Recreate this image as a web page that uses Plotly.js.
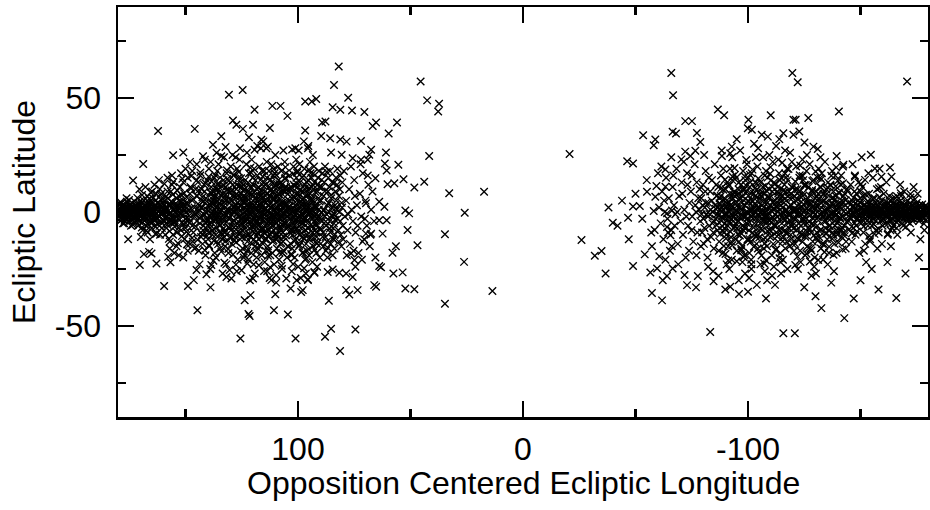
<!DOCTYPE html>
<html>
<head>
<meta charset="utf-8">
<script src="https://cdn.plot.ly/plotly-3.0.1.min.js"></script>
<style>html,body{margin:0;padding:0;background:#fff;}#chart{width:930px;height:510px;}</style>
</head>
<body>
<div id="chart"></div>
<script>
// Axis ticks and titles
const xTickVals = [100, 0, -100];
const xTickText = ['100', '0', '-100'];
const xMinorVals = [150, 50, -50, -150];
const yTickVals = [50, 0, -50];
const yTickText = ['50', '0', '-50'];
const yMinorVals = [75, 25, -25, -75];
const xTitle = 'Opposition Centered Ecliptic Longitude';
const yTitle = 'Ecliptic Latitude';

// [longitude, latitude] pairs
const westCore = [
[179,0.5],[178,-1],[177.5,1.5],[176,-0.5],[179.5,-2],[175,2.5],[174,-1.5],[173,0],[178.5,2],[176.5,-3],[172.5,1],[175.5,-2.5],[177,3],[173.5,-3.5],[174.5,3.5],[179,-4],[176,4.5],[172,-1],[178,0],[175,-0.5],[173,2],[177,-1.5],[174,0.8],[179.5,1.2],[176.8,-2.2],[172.8,-2.8],[175.8,1.8],[178.2,-3.2],[173.8,4],[177.8,-5],[174.2,-6],[176.2,6],[172.2,3],[179.2,3.5],[175.2,-4.2],[173.2,-4.8],[177.2,0.2],[178.8,-0.8],[174.8,-1.2],[176.6,0.6],
[171,0],[170,-2],[169,1],[168,3],[167,-1],[166,-4],[165,2],[164,0],[163,-3],[162,4],[161,-1],[160,1],[171.5,2.5],[170.5,-4],[169.5,-1.5],[168.5,5],[167.5,-6],[166.5,0.5],[165.5,-2.5],[164.5,6],[163.5,1.5],[162.5,-5],[161.5,3],[160.5,-7],[171,-6],[170,5],[169,-8],[168,-0.5],[167,7],[166,2.5],[165,-7],[164,-3],[163,8],[162,-1.5],[161,5.5],[160,-3.5],[170.8,3.8],[168.8,-3.2],[166.8,-9],[164.8,9],[162.8,-9.5],[160.8,8],[169.3,7.5],[167.3,3.5],[165.3,-5],[163.3,-6.5],[161.3,-10],[171.7,-2],[170.2,1.2],[168.2,-1.8],[166.2,4.2],[164.2,-0.6],[162.2,2.2],[160.2,-0.4],[167.8,11],[163.8,12],[165.8,-12],[169.8,-11],[161.8,14],[170.5,10],
[159,0],[158,-2],[157,3],[156,-5],[155,1],[154,6],[153,-3],[152,-8],[151,4],[150,0],[149,-1],[148,8],[147,-6],[146,2],[145,-4],[159.5,5],[158.5,-7],[157.5,-1],[156.5,9],[155.5,-10],[154.5,-0.5],[153.5,2.5],[152.5,11],[151.5,-4.5],[150.5,-12],[149.5,6.5],[148.5,-3],[147.5,1.5],[146.5,-9],[145.5,10],[159,-10],[158,9],[157,-13],[156,12],[155,-3],[154,-15],[153,7],[152,-1],[151,13],[150,-7],[149,15],[148,-14],[147,5],[146,-2],[145,14],[158.8,2],[157.8,6],[156.8,-3.5],[155.8,4],[154.8,-6.5],[153.8,-9],[152.8,1.5],[151.8,7.5],[150.8,3],[149.8,-5],[148.8,-9.5],[147.8,11],[146.8,-13],[145.8,-1],[159.3,-4],[156,16],[152,17],[149,-17],[147,18],[155,-18],[150,19],[146,-16],[158,15],[153,-19],[148,22],[157,-16],[145,21],[151,-20],
[144.2,0],[143.6,-5],[144.8,7],[143.1,-11],[144.5,13],[143.9,3],[144.1,-17],[142.7,2],[143.3,-2],[142.2,-8],[142.9,10],[143.4,16],[142.4,-14],[143.0,5],[141.8,-1],[141.3,4],[142.0,-6],[141.5,9],[141.1,-19],[141.7,12],[140.8,-3],[140.6,1],[140.2,-4],[140.9,6],[139.8,-9],[140.4,14],[139.6,19],[140.0,-12],[139.3,-2],[138.9,3],[139.1,-7],[138.6,11],[139.5,-15],[138.3,8],[138.8,22],[137.9,0],[137.4,5],[138.1,-10],[137.6,-4],[137.2,15],[137.8,9],[137.0,-18],[136.7,2],[136.3,-3],[136.9,7],[136.1,-13],[135.7,12],[136.5,-20],[135.9,18],[135.4,-1],[135.1,4],[134.8,-6],[135.6,10],[134.6,-16],[135.3,21],[134.3,1],[134.0,3],[133.7,-5],[133.4,8],[134.2,-9],[133.1,14],[133.8,-12],[132.9,24],[132.6,-2],[132.2,6],[132.8,-11],[132.0,11],[131.7,17],[132.4,-15],[131.5,0],[131.2,1],[130.8,-3],[131.0,9],[130.5,-7],[130.2,13],[130.9,-18],[129.9,20],[129.6,-1],[129.2,5],[129.8,-8],[128.9,12],[129.4,-14],[128.7,16],[128.4,2],[128.1,0],[127.7,-6],[128.3,7],[127.4,10],[127.9,-11],[127.1,19],[126.8,-21],[126.6,2],[126.2,-2],[126.9,4],[125.9,-9],[126.4,15],[125.6,-17],[126.0,23],[125.3,-3],[125.0,6],[125.7,-12],[124.9,11],[125.4,13],[124.7,-5],[125.2,8],[124.5,-1],[124.2,4],[124.8,-8],[124.0,7],[124.4,12],[124.6,-16],[124.1,-20],
[144.6,1.5],[143.2,-9],[142.5,6.5],[141.2,-4.5],[140.5,-10.5],[139.7,15.5],[138.5,4.5],[137.3,-1.5],[136.4,-3.5],[135.5,12.5],[134.5,7.5],[133.2,-11.5],[132.5,-8.5],[131.4,14.5],[130.6,0.5],[129.5,9.5],[128.5,-12.5],[127.5,6.5],[126.5,1.5],[125.5,-3.5],[143.8,-23],[141.4,23],[139.0,-25],[136.2,26],[133.5,-27],[131.9,-23],[129.1,25],[127.2,-26],[125.8,28],
[123.6,0],[123.2,-4],[123.9,6],[122.8,-10],[123.4,14],[122.6,-17],[123.0,21],[122.9,3],[122.3,1],[121.9,-2],[122.1,9],[121.6,-7],[122.5,-13],[121.8,17],[122.0,-21],[121.3,11],[121.1,-1],[120.7,4],[120.9,-5],[120.4,8],[121.2,-11],[120.2,15],[120.8,-18],[120.6,23],[120.0,2],[119.6,-3],[119.8,7],[119.3,-9],[119.9,12],[119.1,-15],[119.5,19],[119.7,-23],[118.8,-1],[118.5,5],[118.9,-6],[118.2,10],[118.6,-13],[118.0,16],[118.4,-20],[118.7,1],[117.7,0],[117.3,-3],[117.9,3],[117.1,-8],[117.5,11],[117.8,-16],[117.2,20],[116.9,7],[116.6,-2],[116.2,2],[116.8,-5],[116.0,9],[116.4,-11],[116.7,14],[116.1,-19],[115.8,-7],[115.5,1],[115.1,-4],[115.7,6],[115.3,-9],[114.9,13],[115.6,-14],[115.0,18],[114.8,-22],[114.5,-1],[114.2,4],[114.6,-6],[114.0,8],[114.3,-12],[113.8,15],[114.4,-17],[113.9,22],[113.5,0],[113.1,-3],[113.6,5],[113.2,-8],[112.8,11],[113.4,-15],[112.9,18],[112.7,-2],[112.4,2],[112.0,-5],[112.5,7],[112.2,-10],[111.8,13],[112.3,-19],[111.9,21],[111.6,-6],[111.3,-1],[111.0,3],[111.5,-4],[110.8,9],[111.2,-13],[110.9,16],[111.4,-18],[110.6,-23],[110.3,1],[110.0,-2],[110.5,6],[109.8,-7],[110.2,12],[109.6,-12],[110.4,17],[109.9,4],[109.3,-1],[109.0,2],[109.5,-5],[108.8,8],[109.2,-10],[108.6,14],[109.4,-16],[108.9,20],[108.3,0],[108.0,-3],[108.5,5],[107.7,-8],[108.2,10],[107.9,-14],[108.4,-21],[107.6,13],[107.3,1],[107.0,-4],[107.5,7],[106.8,-9],[107.2,12],[106.6,-13],[107.4,18],[106.9,-18],[106.3,-1],[106.0,3],[106.5,-6],[105.8,9],[106.2,-11],[105.6,15],[106.4,-17],[105.9,22],[105.3,0],[105.0,-2],[105.5,4],[104.8,-7],[105.2,11],[104.6,-15],[105.4,17],[104.9,-20],
[123.0,-1.5],[121.5,2.5],[120.1,-6.5],[118.3,-3.5],[117.0,5.5],[115.9,-0.5],[114.7,1.5],[113.3,-10.5],[112.1,6.5],[110.7,-3.5],[109.1,-0.5],[107.8,3.5],[106.7,-2.5],[105.7,0.5],[104.5,2],[123.7,10],[120.5,-14],[117.4,-12],[114.1,-8.5],[111.7,8.5],[108.7,-11],[106.1,10.5],[122.7,26],[119.2,-27],[116.5,28],[113.7,-26],[110.1,25],[107.1,-25],[121.4,-30],[115.4,31],[109.7,-31],[118.1,29],[112.6,-29],[106.5,27],
[103.7,1],[103.3,-3],[103.9,5],[103.0,-8],[103.5,10],[103.2,-14],[103.8,16],[102.9,-19],[102.5,0],[102.1,-2],[102.7,6],[102.3,-10],[101.9,12],[102.6,-16],[102.0,20],[101.8,-5],[101.4,-1],[101.1,3],[101.6,-6],[100.9,8],[101.3,-12],[100.7,15],[101.5,-20],[100.8,23],[100.4,1],[100.0,-4],[100.5,5],[99.8,-9],[100.2,11],[99.6,-15],[100.3,18],[99.9,-24],[99.3,0],[99.0,-2],[99.5,7],[98.7,-7],[99.2,13],[98.9,-13],[99.4,21],[98.6,3],[98.3,-1],[97.9,4],[98.4,-5],[97.7,9],[98.1,-11],[97.5,16],[98.0,-18],[97.8,-3],[97.2,2],[96.9,-3],[97.3,6],[96.6,-8],[97.0,12],[96.4,-14],[97.1,19],[96.8,-21],[96.2,0],[95.8,-5],[96.3,4],[95.6,10],[96.0,-10],[95.5,14],[96.1,-17],[95.9,1],[95.2,-1],[94.9,3],[95.3,-7],[94.6,8],[95.0,-12],[94.4,17],[95.1,-19],[94.7,22],[94.1,1],[93.8,-2],[94.2,6],[93.5,-9],[93.9,11],[93.3,-15],[94.0,15],[93.6,-22],[93.0,0],[92.7,-4],[93.1,5],[92.4,-8],[92.8,13],[92.2,-13],[92.9,20],[92.5,3],[91.9,-1],[91.6,2],[92.0,-6],[91.3,9],[91.7,-11],[91.1,15],[91.8,-18],[91.4,-3],[90.8,1],[90.5,-3],[90.9,6],[90.2,-7],[90.6,11],[90.0,-14],[90.7,18],[90.3,-20],[102.8,-26],[99.7,27],[96.5,-27],[93.4,25],[101.2,28],[98.8,-29],[95.4,29],[91.5,-24],[100.6,-30],[97.4,31],
[89.6,0],[89.2,-4],[89.8,5],[88.9,-9],[89.4,11],[88.7,-15],[89.1,17],[88.4,1],[88.1,-2],[88.6,7],[87.8,-11],[88.3,13],[87.6,-17],[88.0,20],[87.3,-1],[87.0,3],[87.5,-6],[86.7,9],[87.2,-13],[86.5,15],[86.9,-20],[86.2,0],[85.9,-4],[86.4,4],[85.6,-9],[86.0,11],[85.4,-14],[85.8,18],[85.0,2],[84.7,-2],[85.2,6],[84.4,-7],[84.9,13],[84.2,-12],[84.6,-19],[83.9,-1],[83.5,3],[84.0,-5],[83.3,9],[83.7,-10],[83.1,15],[83.8,-16],[82.8,1],[82.4,-3],[82.9,5],[82.1,-8],[82.6,12],[81.9,-13],[82.5,19],[81.6,0],[81.3,-4],[81.8,7],[81.0,-10],[81.4,10],[80.7,-15],[81.2,16],[80.4,2],[80.1,-6],[80.6,4],[79.9,-12],[80.3,13],
[79.2,-2],[78.6,5],[78.0,-8],[77.3,10],[76.9,-14],[76.2,1],[75.6,-4],[75.0,14],[74.4,-9],[73.8,3],[73.1,-18],[72.5,8],[71.9,-2],[71.2,17],[70.6,-12],[70.0,5],[69.4,-6],[68.7,12],[68.1,-15],[67.5,1],[66.9,9],[66.2,-4],[65.6,-20],[79.6,18],[78.3,-19],[77.7,-1],[76.5,20],[75.3,-17],[74.7,7],[73.5,-6],[72.2,21],[71.6,-21],[70.3,-3],[69.0,16],[67.8,-10]
];

const westBand = [
[179.8,-1.2],[179.3,1.8],[178.6,-2.6],[178.1,3.1],[177.6,-0.3],[177.1,-3.8],[176.4,2.2],[175.9,-1.7],[175.4,0.4],[174.9,2.8],[174.3,-2.9],[173.7,1.3],[173.1,-1.9],[172.6,4.6],[172.1,-4.1],[171.6,0.7],[171.1,-3.3],[170.6,2.1],[170.1,-0.8],[169.6,3.7],[169.1,-4.6],[168.6,0.9],[168.1,-2.4],[167.6,2.6],[167.1,-0.2],[166.6,-5.4],[166.1,5.8],[165.6,-1.1],[165.1,4.1],[164.6,-4.4],[164.1,2.4],[163.6,-1.6],[163.1,5.2],[162.6,-2.9],[162.1,0.3],[161.6,-6.1],[161.1,7.3],[160.6,-0.9],[160.1,3.4],[159.6,-3.7],[159.1,1.1],[158.6,6.8],[158.1,-5.6],[157.6,0.4],[157.1,-8.4],[156.6,3.3],[156.1,-1.4],[155.6,7.7],[155.1,-4.8],[154.6,2.1],[154.1,-2.2],[153.6,9.4],[153.1,-6.9],[152.6,-0.7],[152.1,4.4],[151.6,-10.6],[151.1,1.6],[150.6,8.2],[150.1,-3.1],[149.6,-8.7],[149.1,3.8],[148.6,0.8],[148.1,-4.6],[147.6,10.3],[147.1,-11.4],[146.6,5.6],[146.1,-0.6],[145.6,-6.3],[145.1,7.1],[144.6,-12.2],[144.1,9.6],[143.6,-2.7],[143.1,1.9],[142.6,-9.8],[142.1,4.7],[141.6,-1.3],[141.1,12.6],[140.6,-7.4],[140.1,2.8],[178.9,4.4],[177.3,-4.9],[175.1,5.3],[173.4,-5.6],[171.4,6.2],[169.4,-6.8],[167.4,-8.1],[165.4,8.6],[163.4,-9.7],[161.4,10.1],[159.4,12.4],[157.4,-11.8],[155.4,13.2],[153.4,-13.7],[151.4,14.6],[149.4,-14.3],[147.4,15.8],[145.4,-15.6],[143.4,17.3],[141.4,-16.8],
[179.6,0.2],[179.1,-0.9],[178.4,1.0],[177.9,-1.8],[177.4,2.4],[176.9,-0.6],[176.3,0.9],[175.7,-2.1],[175.3,1.4],[174.6,-0.1],[174.1,2.0],[173.6,-1.1],[172.9,0.6],[172.4,-2.2],[171.8,1.7],[171.3,-0.5],[170.8,-1.6],[170.3,2.9],[169.8,0.1],[169.3,-2.7],[168.8,1.8],[168.3,-0.3],[167.8,-3.4],[167.3,0.4],[166.8,2.1],[166.3,-1.9],[165.8,3.6],[165.3,0.2],[164.8,-1.4],[164.3,1.2],[163.8,-3.1],[163.3,2.6],[162.8,-0.8],[162.3,4.1],[161.8,-2.0],[161.3,0.9],[160.8,-4.3],[160.3,2.2],[159.8,-0.5],[159.3,3.3],[158.8,-2.4],[158.3,1.3],[157.8,-4.1],[157.3,2.7],[156.8,-0.2],[156.3,4.6],[155.8,-2.7],[155.3,0.7],[154.8,-4.4],[154.3,3.8],[153.8,-1.0],[153.3,1.9],[152.8,-3.6],[152.3,5.1],[151.8,-0.6],[151.3,2.6],[150.8,-5.3],[150.3,0.9],[149.8,3.9],[149.3,-2.5]
];

const westInner = [
[139.7,0.6],[139.4,-5.3],[139.0,8.7],[138.7,-2.1],[138.4,13.4],[138.0,-8.2],[137.7,3.6],[137.4,-12.6],[137.1,6.1],[136.8,-0.4],[136.5,10.2],[136.2,-6.8],[135.8,2.4],[135.5,-14.1],[135.2,5.7],[134.9,-3.2],[134.6,15.1],[134.3,-9.4],[133.9,0.9],[133.6,-1.8],[133.3,11.6],[133.0,-7.1],[132.7,4.2],[132.3,-12.9],[132.0,7.6],[131.7,-4.4],[131.4,1.2],[131.0,-16.2],[130.7,13.7],[130.4,-2.6],[130.1,5.3],[129.8,-10.8],[129.4,9.2],[129.1,-6.2],[128.8,0.3],[128.5,16.4],[128.2,-3.9],[127.8,3.1],[127.5,-13.3],[127.2,7.8],[126.9,-0.8],[126.6,-8.6],[126.2,11.3],[125.9,2.7],[125.6,-5.2],[125.3,14.8],[125.0,-11.1],[124.6,4.9],[124.3,-2.3],[124.0,9.9],[123.7,-7.6],[123.4,0.7],[123.0,-15.4],[122.7,6.3],[122.4,-3.6],[122.1,12.9],[121.8,-9.9],[121.4,2.0],[121.1,-0.5],[120.8,17.2],[120.5,-6.5],[120.1,5.0],[119.8,-12.2],[119.5,8.5],[119.2,-1.7],[118.9,13.9],[118.6,-4.8],[118.2,1.5],[117.9,-9.1],[117.6,10.6],[117.3,-14.7],[117.0,3.4],[116.6,-2.9],[116.3,7.2],[116.0,-7.9],[115.7,15.6],[115.4,-0.2],[115.0,4.5],[114.7,-11.9],[114.4,11.8],[114.1,-5.6],[113.8,0.2],[113.4,8.1],[113.1,-16.8],[112.8,2.9],[112.5,-3.3],[112.2,14.2],[111.8,-8.8],[111.5,5.8],[111.2,-1.2],[110.9,-12.4],[110.6,10.9],[110.2,-4.1],[109.9,1.9],[109.6,16.1],[109.3,-9.6],[109.0,6.7],[108.6,-2.4],[108.3,12.3],[108.0,-6.4],[107.7,0.4],[107.4,-13.6],[107.0,4.1],[106.7,9.3],[106.4,-4.7],[106.1,-0.9],[105.8,14.5],[105.4,-10.3],[105.1,2.6],[104.8,-2.1],[104.5,7.9],[104.2,-15.2],[103.8,4.8],[103.5,-5.9],[103.2,11.1],[102.9,-0.6],[102.6,-8.1],[102.2,16.7],[101.9,1.4],[101.6,-12.8],[101.3,6.4],[101.0,-3.7],[100.6,12.6],[100.3,-7.3],[100.0,0.8],[99.7,-1.6],[99.4,-14.4],[99.0,9.7],[98.7,4.3],[98.4,-9.2],[98.1,15.3],[97.8,-4.9],[97.4,0.1],[97.1,-11.7],[96.8,7.1],[96.5,-2.8],[96.2,13.2],[95.8,-6.9],[95.5,2.3],[95.2,-16.4],[94.9,10.4],[94.6,-0.3],[94.2,-8.4],[93.9,5.4],[93.6,-3.1],[93.3,16.9],[93.0,-11.3],[92.6,1.7],[92.3,8.8],[92.0,-5.3],[91.6,-13.9],[91.2,12.1],[90.8,-1.9],[90.4,4.6],[89.9,-7.7],[89.5,14.1],[89.0,-10.9],[88.6,0.6],[88.1,9.1],[87.7,-4.2],[87.2,17.6],[86.8,-15.7],[86.3,3.9],[85.9,-7.2],[85.4,7.4],[85.0,-1.4],[84.5,-11.6],[84.1,12.7],[83.6,-3.4],[83.2,1.8],
[139.2,3.3],[138.8,-4.4],[138.3,-0.7],[137.9,6.8],[137.5,-7.3],[137.0,1.1],[136.6,-10.1],[136.1,4.4],[135.7,-2.2],[135.3,8.6],[134.8,-5.7],[134.4,0.1],[133.9,11.2],[133.5,-3.4],[133.1,2.7],[132.6,-9.1],[132.2,5.2],[131.8,-1.3],[131.3,9.8],[130.9,-6.6],[130.5,3.9],[130.0,-11.5],[129.6,0.6],[129.2,7.1],[128.7,-3.7],[128.3,-8.3],[127.9,2.2],[127.4,11.9],[127.0,-5.1],[126.6,-0.2],[126.1,6.4],[125.7,-9.6],[125.3,3.0],[124.8,-2.9],[124.4,9.3],[124.0,-6.2],[123.5,1.7],[123.1,-11.0],[122.7,4.7],[122.2,-1.9],[121.8,7.9],[121.4,-4.1],[120.9,0.3],[120.5,10.7],[120.1,-8.6],[119.6,2.9],[119.2,-3.1],[118.8,6.0],[118.3,-10.4],[117.9,0.9],[117.5,-5.4],[117.0,8.8],[116.6,-1.2],[116.2,3.7],[115.7,-7.7],[115.3,11.4],[114.9,-2.6],[114.4,1.3],[114.0,-11.8],[113.6,6.2],[113.1,-4.3],[112.7,-0.4],[112.3,9.6],[111.8,-6.9],[111.4,2.4],[111.0,-2.0],[110.5,5.6],[110.1,-9.9],[109.7,0.0],[109.2,12.1],[108.8,-3.8],[108.4,3.3],[107.9,-7.1],[107.5,8.4],[107.1,-1.5],[106.6,-10.7],[106.2,4.0],[105.8,-4.6],[105.3,1.0],[104.9,9.9],[104.5,-6.0],[104.0,2.0],[103.6,-1.1],[103.2,-9.4],[102.7,7.4],[102.3,-3.2],[101.9,0.5],[101.4,11.3],[101.0,-7.6],[100.6,3.6],[100.1,-2.5],[99.7,8.1],[99.3,-10.2],[98.8,1.6],[98.4,-4.0],[98.0,5.3],[97.5,-0.8],[97.1,10.2],[96.7,-8.0],[96.2,2.7],[95.8,-3.5],[95.4,7.7],[94.9,-11.2],[94.5,0.4],[94.1,4.9],[93.6,-6.3],[93.2,11.7],[92.8,-1.9],[92.3,2.1],[91.9,-9.0],[139.5,-14.6],[136.8,16.2],[134.1,-17.4],[131.6,18.3],[128.9,-18.7],[126.3,17.6],[123.8,-18.9],[121.2,19.4],[118.6,-17.3],[116.0,18.1],[113.4,-19.2],[110.8,18.8],[108.2,-17.9],[105.6,19.7],[103.0,-18.4],[100.4,17.2],[97.8,-17.7],[95.2,18.6],[92.6,-16.6],[137.6,-21.4],[132.7,-22.3],[127.6,-23.1],[122.5,-22.6],[117.4,-23.4],[112.4,-24.2],[107.3,-23.6],[102.2,-22.8],[97.3,-24.7],[125.1,-25.6],[115.1,-25.9]
];

const westOutliers = [
[130.7,51.5],[124.6,53.6],[119.3,44.9],[111.4,46.6],[107.8,46.6],[104.7,42.2],[162.2,35.6],[145.9,36.5],[128.9,40.2],[127.4,38.3],[124.5,36.5],[120,38.3],[121.8,32.8],[112.5,36.9],[134.1,33.3],[137.8,29.5],[132.2,28.5],[173.3,13.8],[168.8,21.1],[155.5,24.9],[151,26.1],[142.2,24.5],[134.1,24.5],[127.7,24],[116.3,31.7],[113.4,28.7],[114.1,28],[119.3,27.3],[102.6,27.4],[95.6,28],
[81.9,63.9],[84,55.8],[45.5,57.3],[77.7,50.2],[96.8,48.5],[93.9,48.5],[91.9,49.6],[42.6,49],[37.3,47.5],[37.7,44.1],[84.6,46],[81.2,44.9],[76,44.6],[70.5,43.9],[89.3,39.3],[87.8,39.7],[96.8,35.8],[66.8,37.8],[65.3,39.3],[56,39.3],[59.7,34.5],[89.7,33.4],[85.7,32.4],[81.2,31.8],[78.4,30.9],[72,31.2],[41.7,24.6],[60.9,26.1],[67.5,27.3],[85.3,26.1],[80.6,25.1],[75.7,23.6],[72,22.9],[69,22.9],[68.3,25.1],[61.4,21.3],[55.4,20.7],[60.6,18.2],[65.6,14.8],[60.2,12.2],[57.2,12.6],[53.1,14.4],[48.3,10.8],[43.9,13.3],[32.8,8.2],[17.3,8.9],[69.8,3.8],[63.9,4.5],[61.6,2.3],[52.3,0.7],
[175.5,-12],[170.3,-23.3],[168.5,-18.5],[165.1,-18.2],[166.2,-17.5],[162.9,-22.6],[157.7,-19.7],[156.7,-22.1],[159.5,-32.5],[148.9,-32.5],[146.3,-29.9],[138.9,-33.1],[144.7,-43.1],[145.1,-25.5],[140.7,-27.3],[138.5,-23.3],[130.4,-25.5],[129.6,-29.2],[131.8,-28.5],[125.6,-55.5],[123.7,-38.7],[121.1,-36.5],[121.5,-45.7],[122,-44.8],[110.7,-43.1],[104.5,-45],[110.1,-36.1],[101.1,-55.5],[120,-29.2],[111.9,-29.9],[109.7,-27.7],[105.2,-29.2],[103.3,-33.6],[98.6,-35.1],[95.6,-29.9],[92.7,-26.7],
[50.6,-0.6],[25.9,-0.3],[51.3,-7.9],[34.7,-9.8],[46.9,-14.6],[56.5,-15],[58,-17.9],[26.2,-21.9],[63.9,-23.7],[63.1,-24.3],[57.6,-27],[53.5,-26.5],[66.1,-32.1],[65.3,-32.8],[52.3,-33.6],[48.3,-33.9],[13.6,-34.7],[34.7,-40.3],[86.3,-39],[78.6,-34.3],[77.2,-36.2],[73.5,-34.3],[85.3,-51.3],[88,-54.8],[74.5,-51.6],[81.3,-61],[86.8,-26.3],[84.6,-25.2],[81.6,-26.7],[78.6,-27],[75.7,-28.5],[74.9,-21.1],[74.5,-24],[76.4,-18.2],[63.9,-3.6],[60.6,-3.6],[62.4,-9.5],[71.3,-13],[69.8,-9.5],[67.5,-9.5],[96.4,-20.4],[92.7,-26.3],[95.6,-29.6],[97.9,-34.3]
];

const centerPoints = [[-20.7,25.5]];

const eastCore = [
[-38,2],[-42,-6],[-44,5],[-47,-12],[-50,8],[-53,-3],[-55,14],[-57,-9],
[-60.5,2],[-61.2,-5],[-61.8,9],[-62.4,-12],[-63.0,0],[-63.6,15],[-64.2,-3],[-64.8,6],[-65.3,-17],[-65.9,-8],[-66.5,11],[-67.1,3],[-67.7,-1],[-68.2,19],[-68.8,-14],[-69.4,7],[-70.0,-4],[-70.5,13],[-71.1,-10],[-71.7,1],[-72.3,-20],[-72.9,17],[-73.4,-6],[-74.0,4],[-74.6,9],[-75.2,-2],[-75.7,-13],[-76.3,21],[-76.9,0],[-77.5,-9],[-77.9,6],[-61.5,20],[-63.3,-21],[-66.1,-15],[-69.0,-23],[-71.4,22],[-73.8,-17],[-75.0,16],[-77.1,-19],[-62.7,5],[-64.5,-9],[-67.4,-6],[-70.8,8],[-72.6,-2],[-74.9,-8],[-76.6,3],[-68.5,0],[-66.8,16],[-73.1,12],[-77.2,13],
[-78.3,1],[-78.8,-4],[-79.2,6],[-79.6,-9],[-80.0,12],[-80.4,-14],[-80.8,2],[-81.2,18],[-81.6,-1],[-82.0,-20],[-82.4,4],[-82.8,-6],[-83.2,9],[-83.6,-11],[-84.0,14],[-84.4,0],[-84.8,-16],[-85.2,21],[-85.6,-3],[-86.0,7],[-86.4,-8],[-86.8,11],[-87.2,-13],[-87.6,1],[-88.0,16],[-88.4,-2],[-88.8,-18],[-89.2,5],[-89.6,-5],[-90.0,10],[-90.4,-10],[-90.8,13],[-91.2,-15],[-91.6,0],[-92.0,19],[-92.4,-3],[-92.8,-21],[-93.2,6],[-93.6,-7],[-94.0,9],[-94.4,-12],[-94.8,15],[-78.5,10],[-79.0,-15],[-79.8,3],[-80.6,-7],[-81.0,9],[-81.9,-12],[-82.6,15],[-83.0,-1],[-83.9,5],[-84.6,-9],[-85.0,-4],[-85.9,12],[-86.6,2],[-87.0,-17],[-87.9,7],[-88.6,-8],[-89.0,19],[-89.9,-1],[-90.6,4],[-91.0,-6],[-91.9,8],[-92.6,-13],[-93.0,14],[-93.9,-2],[-94.6,1],[-95.0,-17],[-79.4,-1],[-80.2,-3],[-81.4,4],[-82.2,-2],[-83.4,1],[-84.2,-5],[-85.4,3],[-86.2,-1],[-87.4,6],[-88.2,-4],[-89.4,-9],[-90.2,2],[-91.4,-2],[-92.2,3],[-93.4,-4],[-94.2,7],[-80.5,25],[-84.5,-26],[-88.3,27],[-91.7,-25],[-86.9,-28],[-93.0,24],[-82.3,-24],[-90.5,-23],
[-95.4,0],[-95.8,-4],[-96.2,6],[-96.6,-9],[-97.0,12],[-97.4,-15],[-97.8,18],[-98.2,-2],[-98.6,3],[-99.0,-7],[-99.4,9],[-99.8,-12],[-100.2,15],[-100.6,-18],[-101.0,1],[-101.4,-21],[-101.8,5],[-102.2,-3],[-102.6,8],[-103.0,-10],[-103.4,13],[-103.8,-14],[-104.2,20],[-104.6,-1],[-105.0,2],[-105.4,-5],[-105.8,7],[-106.2,-8],[-106.6,11],[-107.0,-16],[-107.4,16],[-107.8,0],[-108.2,-2],[-108.6,4],[-109.0,-6],[-109.4,10],[-109.8,-11],[-110.2,14],[-110.6,-19],[-111.0,22],[-111.4,1],[-111.8,-3],[-112.2,5],[-112.6,-9],[-113.0,9],[-113.4,-13],[-113.8,17],[-114.2,-1],[-114.6,3],[-115.0,-5],[-115.4,7],[-115.8,-11],[-116.2,12],[-116.6,-16],[-117.0,-2],[-117.4,19],[-117.8,0],[-118.2,-7],[-118.6,6],[-119.0,-10],[-119.4,11],[-119.8,-14],[-95.6,8],[-96.0,-13],[-96.4,2],[-96.8,-1],[-97.2,4],[-97.6,-6],[-98.0,10],[-98.4,-19],[-98.8,14],[-99.2,0],[-99.6,-3],[-100.0,5],[-100.4,-8],[-100.8,11],[-101.2,-13],[-101.6,17],[-102.0,-1],[-102.4,2],[-102.8,-5],[-103.2,7],[-103.6,-11],[-104.0,10],[-104.4,-16],[-104.8,4],[-105.2,-2],[-105.6,13],[-106.0,-1],[-106.4,3],[-106.8,-12],[-107.2,8],[-107.6,-4],[-108.0,18],[-108.4,-15],[-108.8,1],[-109.2,6],[-109.6,-8],[-110.0,3],[-110.4,-3],[-110.8,9],[-111.2,-14],[-111.6,13],[-112.0,-1],[-112.4,-6],[-112.8,2],[-113.2,11],[-113.6,-10],[-114.0,5],[-114.4,-18],[-114.8,15],[-115.2,0],[-115.6,-3],[-116.0,4],[-116.4,-8],[-116.8,9],[-117.2,-13],[-117.6,14],[-118.0,-1],[-118.4,2],[-118.8,-4],[-119.2,8],[-119.6,-6],[-120.0,1],[-95.2,-7],[-97.5,-22],[-99.5,21],[-101.5,-25],[-103.5,24],[-105.5,-23],[-107.5,-26],[-109.5,25],[-111.5,-24],[-113.5,23],[-115.5,-21],[-117.5,-25],[-119.5,22],[-96.5,27],[-100.5,-29],[-104.5,28],[-108.5,-30],[-112.5,29],[-116.5,27],[-98.7,-27],[-102.7,30],[-106.7,24],[-110.7,-28],[-114.7,-27],[-118.7,26],[-95.9,-30],[-113.9,32],[-103.9,-32],
[-120.4,0],[-120.8,-3],[-121.2,5],[-121.6,-8],[-122.0,10],[-122.4,-12],[-122.8,15],[-123.2,-17],[-123.6,2],[-124.0,-1],[-124.4,7],[-124.8,-5],[-125.2,12],[-125.6,-10],[-126.0,18],[-126.4,-15],[-126.8,1],[-127.2,-4],[-127.6,4],[-128.0,-9],[-128.4,9],[-128.8,-13],[-129.2,14],[-129.6,-20],[-130.0,-1],[-130.4,3],[-130.8,-6],[-131.2,8],[-131.6,-11],[-132.0,11],[-132.4,-16],[-132.8,17],[-133.2,0],[-133.6,-2],[-134.0,5],[-134.4,-7],[-134.8,10],[-135.2,-12],[-135.6,13],[-136.0,-18],[-136.4,2],[-136.8,-3],[-137.2,6],[-137.6,-9],[-138.0,9],[-138.4,-14],[-138.8,16],[-139.2,-1],[-139.6,1],[-140.0,-4],[-140.4,4],[-140.8,-8],[-141.2,12],[-141.6,-11],[-142.0,-2],[-142.4,7],[-142.8,-6],[-143.2,3],[-143.6,-13],[-144.0,10],[-144.4,0],[-144.8,-4],[-120.6,7],[-121.0,-14],[-121.8,1],[-122.6,-5],[-123.0,9],[-123.8,-10],[-124.6,14],[-125.0,-2],[-125.8,4],[-126.6,-7],[-127.0,11],[-127.8,-16],[-128.6,2],[-129.0,-3],[-129.8,6],[-130.6,-9],[-131.0,15],[-131.8,-1],[-132.6,4],[-133.0,-14],[-133.8,8],[-134.6,-4],[-135.0,1],[-135.8,-8],[-136.6,12],[-137.0,-1],[-137.8,3],[-138.6,-6],[-139.0,7],[-139.8,-10],[-140.6,2],[-141.0,-3],[-141.8,5],[-142.6,-9],[-143.0,8],[-143.8,-1],[-144.6,4],[-121.4,20],[-123.4,-22],[-125.4,-19],[-127.4,21],[-129.4,-24],[-131.4,19],[-133.4,-21],[-135.4,-23],[-137.4,18],[-139.4,-18],[-141.4,16],[-143.4,-16],[-122.2,-25],[-126.2,25],[-130.2,-27],[-134.2,22],[-138.2,-26],[-142.2,20],[-124.2,23],[-128.2,-28],[-132.2,24],
[-145.3,1],[-145.8,-3],[-146.3,5],[-146.8,-7],[-147.3,9],[-147.8,-10],[-148.3,0],[-148.8,3],[-149.3,-2],[-149.8,6],[-150.3,-5],[-150.8,11],[-151.3,-9],[-151.8,1],[-152.3,-1],[-152.8,4],[-153.3,-6],[-153.8,8],[-154.3,-12],[-154.8,0],[-155.3,2],[-155.8,-3],[-156.3,6],[-156.8,-8],[-157.3,10],[-157.8,-1],[-158.3,1],[-158.8,-4],[-159.3,5],[-159.8,-6],[-160.3,8],[-160.8,0],[-161.3,-2],[-161.8,3],[-162.3,-5],[-162.8,7],[-163.3,-8],[-163.8,1],[-164.3,-1],[-164.8,4],[-145.6,12],[-146.1,-13],[-147.1,-1],[-148.1,-6],[-149.1,13],[-150.1,2],[-151.1,7],[-152.1,-14],[-153.1,1],[-154.1,4],[-155.1,-6],[-156.1,-1],[-157.1,3],[-158.1,-9],[-159.1,11],[-160.1,-3],[-161.1,2],[-162.1,-10],[-163.1,5],[-164.1,-3],[-146.6,2],[-148.6,-3],[-150.6,-1],[-152.6,2],[-154.6,-2],[-156.6,1],[-158.6,2],[-160.6,-1],[-162.6,0],[-164.6,-6],[-147.5,16],[-151.5,-17],[-155.5,15],[-159.5,-14],[-149.5,-18],[-153.5,17],[-157.5,-16],[-161.5,13],[-146.5,21],[-152.5,-22],[-158.5,19],[-163.5,-15],
[-165.2,0],[-165.7,-2],[-166.2,3],[-166.7,-4],[-167.2,1],[-167.7,5],[-168.2,-1],[-168.7,-5],[-169.2,2],[-169.7,-2],[-170.2,4],[-170.7,0],[-171.2,-3],[-171.7,1],[-172.2,-1],[-172.7,3],[-173.2,-4],[-173.7,0],[-174.2,2],[-174.7,-2],[-175.2,1],[-175.7,-1],[-176.2,3],[-176.7,-3],[-177.2,0],[-177.7,1],[-178.2,-1],[-178.7,2],[-179.2,0],[-179.7,-1],[-165.5,6],[-166.0,-7],[-167.0,-1],[-168.0,7],[-169.0,-6],[-170.0,-1],[-171.0,5],[-172.0,-5],[-173.0,1],[-174.0,-1],[-175.0,4],[-176.0,-4],[-177.0,2],[-178.0,-3],[-179.0,3],[-179.5,1],[-165.8,2],[-166.9,-1],[-168.4,1],[-169.9,0],[-171.4,-1],[-172.9,0],[-174.4,0],[-175.9,1],[-177.4,-2],[-178.9,-1],[-166.4,-10],[-169.4,9],[-172.4,-9],[-175.4,8],[-178.4,-8],[-167.6,12],[-173.6,11],[-176.6,-12]
];

const eastInner = [
[-88.2,2.2],[-88.6,-6.3],[-89.0,9.8],[-89.4,-1.1],[-89.8,14.2],[-90.2,-11.6],[-90.6,5.1],[-91.0,-3.4],[-91.4,0.4],[-91.8,11.7],[-92.2,-8.7],[-92.6,3.3],[-93.0,-14.6],[-93.4,7.6],[-93.8,-0.7],[-94.2,16.3],[-94.6,-5.2],[-95.0,2.6],[-95.4,-9.8],[-95.8,12.8],[-96.2,-2.4],[-96.6,6.2],[-97.0,-16.1],[-97.4,0.9],[-97.8,9.3],[-98.2,-6.7],[-98.6,15.6],[-99.0,-1.8],[-99.4,3.9],[-99.8,-12.3],[-100.2,7.1],[-100.6,-4.6],[-101.0,13.1],[-101.4,0.2],[-101.8,-9.2],[-102.2,4.7],[-102.6,-15.3],[-103.0,10.4],[-103.4,-2.9],[-103.8,1.6],[-104.2,-7.4],[-104.6,14.7],[-105.0,-11.2],[-105.4,5.6],[-105.8,-0.3],[-106.2,8.8],[-106.6,-4.1],[-107.0,2.1],[-107.4,-13.8],[-107.8,11.4],[-108.2,-1.4],[-108.6,-8.3],[-109.0,6.6],[-109.4,-3.6],[-109.8,16.8],[-110.2,0.6],[-110.6,-10.5],[-111.0,4.4],[-111.4,-5.8],[-111.8,12.2],[-112.2,-16.6],[-112.6,2.8],[-113.0,-2.2],[-113.4,8.1],[-113.8,-7.9],[-114.2,13.9],[-114.6,-0.9],[-115.0,4.9],[-115.4,-12.8],[-115.8,9.6],[-116.2,-3.9],[-116.6,0.3],[-117.0,15.2],[-117.4,-9.5],[-117.8,6.9],[-118.2,-1.6],[-118.6,-14.9],[-119.0,3.2],[-119.4,-5.1],[-119.8,10.7],[-120.2,-7.2],[-120.6,1.3],[-121.0,13.4],[-121.4,-2.7],[-121.8,-11.4],[-122.2,5.4],[-122.6,-0.1],[-123.0,16.1],[-123.4,-6.1],[-123.8,2.5],[-124.2,-13.1],[-124.6,8.4],[-125.0,-3.3],[-125.4,0.8],[-125.8,11.8],[-126.2,-8.6],[-126.6,4.1],[-127.0,-15.8],[-127.4,7.3],[-127.8,-1.2],[-128.2,-5.4],[-128.6,13.6],[-129.0,0.1],[-129.4,-10.1],[-129.8,3.6],[-130.2,9.2],[-130.6,-3.1],[-131.0,-12.6],[-131.4,5.9],[-131.8,1.1],[-132.2,-7.8],[-132.6,14.4],[-133.0,-2.1],[-133.4,7.7],[-133.8,-14.2],[-134.2,0.5],[-134.6,4.3],[-135.0,-9.3],[-135.4,10.8],[-135.8,-1.5],[-136.2,-5.9],[-136.6,2.9],[-137.0,15.9],[-137.4,-11.7],[-137.8,6.4],[-138.2,-0.6],[-138.6,-3.8],[-139.0,11.3],[-139.4,-8.1],[-139.8,1.9],[-140.2,-13.4],[-140.6,8.3],[-141.0,-2.6],[-141.4,3.7],[-141.8,-6.8],[-142.2,12.6],[-142.6,0.2],[-143.0,-10.6],[-143.4,5.2],[-143.8,-4.3],[-144.2,9.1],[-144.6,-1.9],[-145.0,-7.6],[-90.0,-18.4],[-94.0,19.3],[-98.0,-19.8],[-102.0,18.6],[-106.0,-19.1],[-110.0,19.7],[-114.0,-20.3],[-118.0,18.9],[-122.0,-19.6],[-126.0,-18.3],[-130.0,17.8],[-134.0,-17.6],[-138.0,-18.8],[-142.0,-16.4],[-91.2,-21.3],[-99.2,22.8],[-107.2,-22.6],[-115.2,21.6],[-123.2,20.4],[-131.2,-21.1],[-139.2,19.6],
[-85.6,1.4],[-86.0,-5.7],[-86.4,7.3],[-86.9,-1.4],[-87.3,3.8],[-87.7,-9.6],[-88.2,10.6],[-88.6,-2.8],[-89.0,0.7],[-89.5,6.1],[-89.9,-7.4],[-90.3,2.6],[-90.8,-0.9],[-91.2,11.4],[-91.6,-4.6],[-92.1,1.9],[-92.5,-11.1],[-92.9,5.4],[-93.4,-2.3],[-93.8,8.7],[-94.2,-6.5],[-94.7,0.3],[-95.1,4.2],[-95.5,-3.9],[-96.0,9.8],[-96.4,-10.3],[-96.8,1.2],[-97.3,-1.6],[-97.7,6.7],[-98.1,-8.1],[-98.6,2.9],[-99.0,11.8],[-99.4,-4.8],[-99.9,-0.1],[-100.3,4.6],[-100.7,-11.9],[-101.2,8.2],[-101.6,-2.1],[-102.0,0.9],[-102.5,-6.8],[-102.9,3.5],[-103.3,-0.4],[-103.8,12.4],[-104.2,-9.9],[-104.6,1.8],[-105.1,-3.7],[-105.5,7.6],[-105.9,-7.1],[-106.4,0.6],[-106.8,5.0],[-107.2,-1.9],[-107.7,-11.4],[-108.1,9.4],[-108.5,-4.2],[-109.0,2.3],[-109.4,-0.7],[-109.8,6.3],[-110.3,-8.4],[-110.7,11.1],[-111.1,-2.5],[-111.6,1.5],[-112.0,-5.9],[-112.4,4.0],[-112.9,-10.7],[-113.3,0.2],[-113.7,7.0],[-114.2,-3.1],[-114.6,10.3],[-115.0,-7.6],[-115.5,2.0],[-115.9,-0.6],[-116.3,5.7],[-116.8,-9.2],[-117.2,1.0],[-117.6,-4.4],[-118.1,8.9],[-118.5,-1.3],[-118.9,3.1],[-119.4,-11.6],[-119.8,6.2],[-120.2,-2.8],[-120.7,0.4],[-121.1,10.0],[-121.5,-6.1],[-122.0,2.6],[-122.4,-1.0],[-122.8,7.2],[-123.3,-8.8],[-123.7,4.5],[-124.1,-3.5],[-124.6,0.0],[-125.0,11.6],[-125.4,-10.9],[-125.9,1.6],[-126.3,-4.9],[-126.7,5.9],[-127.2,-1.7],[-127.6,-7.4],[-128.0,3.4],[-128.5,9.7],[-128.9,-0.4],[-129.3,-5.6],[-129.8,1.9],[-130.2,-11.3],[-130.6,6.6],[-131.1,-2.3],[-131.5,3.0],[-131.9,-8.5],[-132.4,10.9],[-132.8,-0.8],[-133.2,4.8],[-133.7,-4.1],[-134.1,0.9],[-134.5,-9.5],[-135.0,7.9],[-135.4,-2.6],[-135.8,1.2],[-136.3,-6.3],[-136.7,11.6],[-137.1,-0.3],[-137.6,3.8],[-138.0,-10.1],[-138.4,5.3],[-138.9,-1.8],[-139.3,0.5],[-139.7,-5.0],[-140.2,8.6],[-140.6,-2.2],[-141.0,2.4],[-141.5,-7.9],[-89.3,-14.9],[-93.1,15.6],[-97.0,-16.8],[-100.9,16.3],[-104.8,-17.4],[-108.7,15.1],[-112.6,-16.4],[-116.5,16.9],[-120.4,-17.1],[-124.3,15.8],[-128.2,-16.9],[-132.1,14.9],[-136.0,-15.2],[-139.9,13.7],[-95.0,-21.6],[-101.5,-22.9],[-108.0,-21.2],[-114.5,-22.1],[-121.0,-23.3],[-127.5,-21.7]
];

const eastBand = [
[-145.4,-2.3],[-145.9,3.6],[-146.4,-0.4],[-146.9,6.3],[-147.4,-4.8],[-147.9,1.4],[-148.4,-8.6],[-148.9,4.9],[-149.4,-0.9],[-149.9,9.1],[-150.4,-2.7],[-150.9,0.6],[-151.4,-6.4],[-151.9,3.2],[-152.4,7.6],[-152.9,-3.9],[-153.4,0.2],[-153.9,-10.4],[-154.4,2.7],[-154.9,-1.3],[-155.4,5.8],[-155.9,-5.4],[-156.4,0.9],[-156.9,3.9],[-157.4,-2.1],[-157.9,-7.3],[-158.4,6.6],[-158.9,0.4],[-159.4,-3.3],[-159.9,2.3],[-160.4,-0.7],[-160.9,-5.1],[-161.4,4.6],[-161.9,-1.9],[-162.4,1.7],[-162.9,-3.6],[-163.4,3.1],[-163.9,-0.2],[-164.4,6.1],[-164.9,-2.2],[-165.4,1.6],[-165.9,-4.4],[-166.4,0.8],[-166.9,2.9],[-167.4,-2.6],[-167.9,-0.6],[-168.4,3.6],[-168.9,-3.1],[-169.4,0.3],[-169.9,2.4],[-170.4,-1.6],[-170.9,-4.2],[-171.4,1.9],[-171.9,3.8],[-172.4,-2.4],[-172.9,-0.4],[-173.4,2.9],[-173.9,-3.2],[-174.4,1.4],[-174.9,-0.8],[-175.4,-2.8],[-175.9,2.6],[-176.4,0.1],[-176.9,-1.4],[-177.4,3.3],[-177.9,-2.1],[-178.4,0.7],[-178.9,-3.6],[-179.4,1.9],[-179.8,-0.4],[-146.2,-9.3],[-150.2,12.3],[-154.2,-12.8],[-158.2,10.4],[-162.2,-9.4],[-166.2,6.9],[-170.2,-6.6],[-174.2,5.6],[-178.2,-5.2],[-148.2,8.1],[-156.2,-9.6],[-164.2,-7.2],[-172.2,6.4],
[-145.7,0.4],[-146.2,-1.6],[-146.7,2.6],[-147.2,-0.2],[-147.7,3.9],[-148.2,-3.1],[-148.7,1.1],[-149.2,-1.2],[-149.7,4.4],[-150.2,-4.0],[-150.7,1.9],[-151.2,-0.4],[-151.7,3.1],[-152.2,-2.6],[-152.7,0.3],[-153.2,4.7],[-153.7,-1.8],[-154.2,1.5],[-154.7,-3.5],[-155.2,0.9],[-155.7,3.0],[-156.2,-1.1],[-156.7,-3.9],[-157.2,1.8],[-157.7,0.2],[-158.2,-2.2],[-158.7,3.7],[-159.2,-0.7],[-159.7,1.0],[-160.2,-3.2],[-160.7,2.7],[-161.2,-1.3],[-161.7,0.6],[-162.2,3.4],[-162.7,-2.0],[-163.2,0.9],[-163.7,-3.8],[-164.2,2.0],[-164.7,-0.4],[-165.2,3.0],[-165.7,-1.1],[-166.2,-2.9],[-166.7,1.3],[-167.2,-0.5],[-167.7,2.3],[-168.2,-2.1],[-168.7,0.5],[-169.2,-0.9],[-169.7,3.2],[-170.2,0.7],[-170.7,-2.4],[-171.2,1.4],[-171.7,-1.5],[-172.2,2.2],[-172.7,-0.2],[-173.2,-2.7],[-173.7,1.6],[-174.2,-1.0],[-174.7,2.7],[-175.2,-1.9]
];

const eastOutliers = [
[-65.9,61],[-66.7,51.3],[-86.6,45],[-89.4,42.5],[-72.1,39.9],[-75.1,39.9],[-53.4,33.7],[-58.8,31.8],[-58.1,29.3],[-66.5,35.2],[-68,34.5],[-77.3,34.7],[-78.8,30.7],[-46.3,22.3],[-48.9,21.3],[-65.9,24],[-70.4,23.1],[-72.1,26.5],[-76.6,26.9],[-74.4,24.6],[-60,17],[-63.3,18.7],[-55.1,8.9],[-59.3,11.4],[-63.3,11.1],[-58.8,6.7],[-48.9,2.4],[-51.9,2.6],[-39.9,-4.7],[-46.7,-2.5],[-58.1,0.4],[-58.5,-7.9],[-26,-12.3],[-31.9,-19.2],[-34.9,-17.1],[-36.7,-27],[-48.9,-23.7],[-54.1,-18.6],[-57.3,-15],[-60.6,-19.4],[-56.6,-26.6],[-59.6,-24.8],[-66.5,-24.8],[-62.1,-30],[-64,-28.1],[-57.3,-35.6],[-61.8,-38.8],[-83.2,-52.7],[-71.8,-27.7],[-77.7,-28.1],[-72.9,-32.1],[-76.9,-33.1],[-84.7,-30.4],[-89.9,-34],[-92.1,-32.8],[-64,-6.6],[-65.5,-10.2],[-64,-0.6],[-66.2,0.7],
[-119.7,61],[-122.1,57],[-170.7,57.3],[-110.1,42.5],[-120.2,40.5],[-121.2,40.5],[-126.8,41.3],[-140.4,44.1],[-100.2,40.5],[-99.9,36.8],[-101.7,36.1],[-115.7,34.6],[-120.2,33.9],[-122.8,35.3],[-106.1,33.9],[-108.8,33.1],[-95,31.9],[-125.1,30.5],[-129.1,28.7],[-131,27.7],[-150.5,24],[-154.6,25.1],[-139.4,24.6],[-142.4,20.7],[-156.4,19.1],[-163.1,19.5],[-163.8,15.5],[-167.9,8.2],[-172.2,7.9],[-92.8,28.7],[-92.1,25.8],[-88.4,24.6],[-147.5,15.5],[-152,14.1],[-159.3,15.5],
[-115.7,-53.2],[-120.8,-53.2],[-132.6,-42.2],[-142.8,-46.6],[-165.9,-37.8],[-100,-35],[-108,-38],[-125,-33],[-137,-31],[-150,-30],[-158,-34],[-147,-38],[-170,-27],[-112,-32],[-96,-36],[-130,-37],[-155,-25],[-162,-22],[-176,-20]
];

const allPts = westCore.concat(westBand, westInner, westOutliers, centerPoints, eastCore, eastInner, eastBand, eastOutliers);
const lon = allPts.map(p => p[0]);
const lat = allPts.map(p => p[1]);

const FONT = 'Liberation Sans, Arial, Helvetica, sans-serif';

const trace = {
  type: 'scatter', mode: 'markers', x: lon, y: lat,
  marker: {symbol: 'x-thin-open', size: 7.5, color: '#000', line: {color: '#000', width: 1.35}},
  hoverinfo: 'skip', cliponaxis: true
};

const layout = {
  width: 930, height: 510,
  margin: {l: 118, r: 2, t: 7, b: 93, pad: 0},
  paper_bgcolor: '#fff', plot_bgcolor: '#fff',
  font: {family: FONT, size: 32, color: '#000'},
  showlegend: false,
  xaxis: {
    range: [180, -180], autorange: false,
    tickmode: 'array', tickvals: xTickVals, ticktext: xTickText,
    ticks: 'inside', ticklen: 16, tickwidth: 2.5, tickcolor: '#000',
    minor: {tickmode: 'array', tickvals: xMinorVals, ticks: 'inside', ticklen: 8, tickwidth: 2.5, tickcolor: '#000', showgrid: false},
    showline: true, linewidth: 2.5, linecolor: '#000', mirror: 'ticks',
    showgrid: false, zeroline: false,
    tickfont: {family: FONT, size: 32, color: '#000'},
    ticklabelstandoff: 2,
    automargin: false
  },
  yaxis: {
    range: [-90, 90], autorange: false,
    tickmode: 'array', tickvals: yTickVals, ticktext: yTickText,
    ticks: 'inside', ticklen: 16, tickwidth: 2.5, tickcolor: '#000',
    minor: {tickmode: 'array', tickvals: yMinorVals, ticks: 'inside', ticklen: 8, tickwidth: 2.5, tickcolor: '#000', showgrid: false},
    showline: true, linewidth: 2.5, linecolor: '#000', mirror: 'ticks',
    showgrid: false, zeroline: false,
    tickfont: {family: FONT, size: 32, color: '#000'},
    ticklabelstandoff: 8,
    title: {text: yTitle, font: {family: FONT, size: 32, color: '#000'}, standoff: 10},
    automargin: false
  },
  annotations: [{
    text: xTitle, xref: 'paper', yref: 'paper', x: 0.5, y: -0.161,
    xanchor: 'center', yanchor: 'middle', showarrow: false,
    font: {family: FONT, size: 32, color: '#000'}
  }]
};

Plotly.newPlot('chart', [trace], layout, {staticPlot: true, displayModeBar: false});
</script>
</body>
</html>
